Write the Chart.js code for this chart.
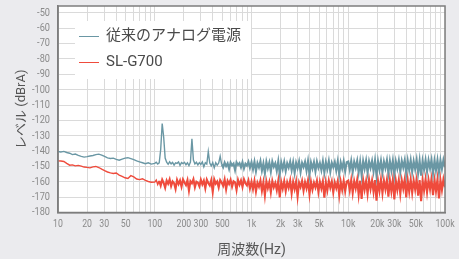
<!DOCTYPE html>
<html>
<head>
<meta charset="utf-8">
<script src="https://cdn.jsdelivr.net/npm/chart.js@4.4.1/dist/chart.umd.min.js"></script>
<style>
html, body { margin: 0; padding: 0; background: #ebebee; }
#wrap { width: 459px; height: 259px; }
</style>
</head>
<body>
<div id="wrap"><canvas id="spectrumChart" width="459" height="259"></canvas></div>
<script>
var seriesNames = ["従来のアナログ電源", "SL-G700"];
var seriesColors = ["#6a97a4", "#ef4b3c"];

var freqHz = [
  10, 10.7, 11.5, 12.3, 13.2, 14.1, 15.1, 16.2, 17.4, 18.6,
  20, 21.4, 23, 24.6, 26.4, 28.3, 30.3, 32.5, 34.8, 37.3,
  40, 42.9, 46, 49.3, 52.8, 56.6, 60.7, 65, 69.7, 74.7,
  80, 85.8, 92,
  100, 103.6, 107.3, 111.2, 115.2, 119.4, 123.7, 128.1, 132.7, 137.5,
  142.5, 147.6, 152.9, 158.4, 164.1, 170, 176.2, 182.5, 189.1, 195.9,
  203, 210.3, 217.8, 225.7, 233.8, 242.2, 251, 260, 269.4, 279.1,
  289.1, 299.5, 310.3, 321.5, 333.1, 345.1, 357.5, 370.4, 383.7, 397.5,
  411.9, 426.7, 442.1, 458, 474.5, 491.6, 509.3, 527.6, 546.6, 566.3,
  586.7, 607.9, 629.8, 652.4, 676, 700.3, 725.5, 751.7, 778.7, 806.8,
  835.9, 866, 897.2, 929.5, 963,
  1000, 1036, 1073, 1112, 1152, 1194, 1237, 1281, 1327, 1375,
  1425, 1476, 1529, 1584, 1641, 1700, 1762, 1825, 1891, 1959,
  2030, 2103, 2178, 2257, 2338, 2422, 2510, 2600, 2694, 2791,
  2891, 2995, 3103, 3215, 3331, 3451, 3575, 3704, 3837, 3975,
  4119, 4267, 4421, 4580, 4745, 4916, 5093, 5276, 5466, 5663,
  5867, 6079, 6298, 6524, 6760, 7003, 7255, 7517, 7787, 8068,
  8359, 8660, 8972, 9295, 9630,
  10000, 10360, 10730, 11120, 11520, 11940, 12370, 12810, 13270, 13750,
  14250, 14760, 15290, 15840, 16410, 17000, 17620, 18250, 18910, 19590,
  20300, 21030, 21780, 22570, 23380, 24220, 25100, 26000, 26940, 27910,
  28910, 29950, 31030, 32150, 33310, 34510, 35750, 37040, 38370, 39750,
  41190, 42670, 44210, 45800, 47450, 49160, 50930, 52760, 54660, 56630,
  58670, 60790, 62980, 65240, 67600, 70030, 72550, 75170, 77870, 80680,
  83590, 86600, 89720, 92950, 96300, 100000
];

var analogLevel = [
  -140.3, -140.6, -140.2, -140.9, -141.4, -142.3, -141.9, -142.8, -143.4, -143.9,
  -143.6, -143.2, -142.9, -142.3, -142.0, -142.6, -143.5, -144.4, -144.8, -144.6,
  -145.4, -145.9, -145.2, -144.6, -144.3, -144.9, -145.5, -146.4, -147.0, -147.6,
  -148.2, -147.6, -148.5,
  -148.0, -147.3, -148.4, -147.7, -139.0, -122.0, -131.0, -144.5, -147.2, -148.6,
  -147.0, -148.3, -147.4, -149.1, -147.6, -148.0, -147.1, -149.3, -147.5, -148.2,
  -147.3, -148.9, -147.6, -149.5, -147.2, -132.0, -145.8, -148.4, -147.3, -149.0,
  -147.5, -148.7, -147.1, -150.2, -147.6, -148.5, -140.4, -147.8, -149.6, -147.4,
  -150.8, -147.6, -149.2, -147.8, -143.4, -148.6, -150.5, -147.5, -149.8, -148.0,
  -151.6, -147.4, -149.3, -148.1, -152.4, -147.3, -149.0, -147.8, -150.6, -147.2,
  -151.3, -148.2, -149.5, -147.0, -150.9,
  -147.2, -151.8, -146.9, -153.1, -147.8, -150.6, -146.6, -152.7, -148.1, -154.6,
  -147.0, -151.2, -147.5, -153.4, -146.8, -150.2, -147.9, -152.9, -146.7, -155.1,
  -147.4, -151.6, -147.1, -153.0, -148.0, -150.8, -146.9, -152.5, -147.3, -154.2,
  -147.6, -151.0, -146.8, -153.6, -147.7, -150.4, -147.0, -152.8, -146.6, -155.4,
  -147.5, -151.4, -147.2, -153.3, -146.9, -150.9, -147.8, -152.4, -146.7, -154.0,
  -147.3, -151.7, -146.5, -153.5, -147.6, -150.5, -147.1, -152.6, -146.8, -155.0,
  -147.4, -151.3, -146.6, -153.2, -147.2,
  -146.8, -152.0, -146.4, -153.6, -147.0, -150.8, -146.3, -153.9, -146.9, -155.6,
  -146.5, -151.5, -146.2, -154.1, -146.7, -150.9, -146.4, -153.2, -146.1, -155.9,
  -146.6, -152.2, -146.3, -153.8, -146.8, -151.1, -146.0, -154.4, -146.5, -152.6,
  -146.2, -155.2, -146.7, -151.4, -146.1, -153.7, -146.4, -150.7, -145.9, -154.8,
  -146.3, -152.3, -146.0, -153.5, -146.6, -151.8, -145.8, -154.2, -146.2, -156.0,
  -146.4, -152.0, -145.9, -153.4, -146.1, -151.2, -145.8, -154.6, -146.3, -152.5,
  -145.9, -153.9, -146.0, -151.6, -145.8, -150.5
];

var slg700Level = [
  -146.4, -146.5, -146.8, -148.0, -149.2, -149.0, -149.6, -149.3, -149.8, -150.4,
  -150.6, -150.9, -150.3, -150.0, -150.7, -151.8, -152.8, -153.6, -154.2, -154.6,
  -154.3, -155.6, -156.4, -157.4, -157.8, -156.0, -156.8, -158.2, -158.6, -158.0,
  -159.1, -159.8, -160.3,
  -160.2, -158.9, -161.8, -159.4, -162.5, -158.6, -160.7, -163.9, -159.2, -161.3,
  -158.4, -162.8, -159.7, -160.9, -164.6, -158.8, -161.5, -159.1, -163.2, -158.5,
  -160.4, -162.1, -158.9, -165.8, -159.6, -161.0, -158.3, -163.5, -159.9, -160.6,
  -162.9, -158.7, -161.7, -159.3, -164.2, -158.6, -160.8, -162.4, -159.0, -166.6,
  -158.4, -161.2, -159.8, -163.7, -158.9, -160.5, -162.6, -158.5, -164.9, -159.4,
  -161.4, -158.7, -163.1, -159.6, -160.3, -165.2, -158.8, -161.9, -159.2, -163.4,
  -158.4, -160.9, -162.3, -159.1, -164.4,
  -160.0, -164.8, -159.4, -166.3, -160.6, -163.2, -159.2, -165.9, -160.3, -168.9,
  -159.7, -164.1, -160.2, -166.8, -159.5, -163.6, -160.8, -165.4, -159.3, -170.2,
  -160.1, -164.5, -159.6, -166.1, -160.4, -163.9, -159.2, -167.4, -160.0, -164.7,
  -159.8, -169.6, -160.5, -163.4, -159.4, -165.8, -160.2, -164.2, -159.1, -168.2,
  -159.9, -165.1, -160.6, -163.7, -159.3, -166.6, -160.1, -164.4, -159.6, -170.4,
  -160.3, -165.6, -159.2, -163.8, -159.8, -166.9, -160.4, -164.0, -159.5, -168.6,
  -160.0, -165.3, -159.4, -166.2, -159.9,
  -159.2, -165.6, -158.9, -167.2, -159.6, -164.3, -158.7, -168.4, -159.3, -171.2,
  -158.8, -165.1, -159.5, -167.8, -158.6, -164.7, -159.1, -166.5, -158.9, -172.3,
  -159.4, -165.9, -158.5, -167.4, -159.2, -164.9, -158.7, -169.6, -159.0, -166.2,
  -158.6, -171.5, -159.3, -165.3, -158.8, -167.9, -159.1, -164.5, -158.4, -170.1,
  -159.0, -166.4, -158.6, -167.1, -159.2, -165.0, -158.5, -169.0, -158.9, -172.6,
  -159.1, -165.7, -158.4, -166.8, -158.8, -164.8, -158.3, -168.7, -159.0, -166.0,
  -158.5, -170.8, -158.7, -165.4, -158.4, -163.5
];

var xTickValues = [10, 20, 30, 50, 100, 200, 300, 500, 1000, 2000, 3000, 5000, 10000, 20000, 30000, 50000, 100000];
var xTickLabels = ["10", "20", "30", "50", "100", "200", "300", "500", "1k", "2k", "3k", "5k", "10k", "20k", "30k", "50k", "100k"];
var yTickValues = [-180, -170, -160, -150, -140, -130, -120, -110, -100, -90, -80, -70, -60, -50];

var tickFont = "Roboto, sans-serif";
var textFont = "Roboto, 'Noto Sans CJK JP', sans-serif";

function toPoints(levels) {
  var pts = [];
  for (var i = 0; i < freqHz.length; i++) {
    pts.push({ x: freqHz[i], y: levels[i] });
  }
  return pts;
}

function logGridValues() {
  var vals = [];
  for (var p = 10; p < 100000; p *= 10) {
    for (var m = 1; m < 10; m++) {
      vals.push(Math.round(m * p));
    }
  }
  vals.push(100000);
  return vals;
}

// tick labels in the original use a condensed face; squeeze Roboto horizontally
function condenseLabels(axis, factor) {
  if (axis.$condensed) return;
  axis.$condensed = true;
  var original = axis.drawLabels;
  axis.drawLabels = function (chartArea) {
    var render = Chart.helpers && Chart.helpers.renderText;
    if (!render) {
      return original.call(this, chartArea);
    }
    var c = this.ctx;
    c.save();
    c.scale(factor, 1);
    this.getLabelItems(chartArea).forEach(function (item) {
      var o = Object.assign({}, item.options);
      o.translation = [item.options.translation[0] / factor, item.options.translation[1]];
      render(c, item.label, 0, item.textOffset, item.font, o);
    });
    c.restore();
  };
}

var plotBackground = {
  id: "plotBackground",
  beforeDraw: function (chart) {
    var a = chart.chartArea;
    chart.ctx.save();
    chart.ctx.fillStyle = "#ffffff";
    chart.ctx.fillRect(a.left, a.top, a.right - a.left, a.bottom - a.top);
    chart.ctx.restore();
  }
};

var frameAndLegend = {
  id: "frameAndLegend",
  afterDatasetsDraw: function (chart) {
    var ctx = chart.ctx;
    var a = chart.chartArea;
    ctx.save();
    ctx.fillStyle = "#ffffff";
    ctx.fillRect(75, 21, 176, 58);
    ctx.font = "15px " + textFont;
    ctx.textBaseline = "middle";
    chart.data.datasets.forEach(function (ds, i) {
      var y = 36 + i * 26;
      ctx.strokeStyle = ds.borderColor;
      ctx.lineWidth = 1;
      ctx.beginPath();
      ctx.moveTo(79, y + 0.5);
      ctx.lineTo(99, y + 0.5);
      ctx.stroke();
      ctx.fillStyle = "#4a4a4a";
      ctx.fillText(ds.label, 106, y);
    });
    ctx.strokeStyle = "#7d7d7d";
    ctx.lineWidth = 1.5;
    ctx.strokeRect(a.left, a.top, a.right - a.left, a.bottom - a.top);
    ctx.restore();
  }
};

function segmentWidth(ctx) {
  var denseFrom = ctx.datasetIndex === 0 ? 480 : 110;
  return ctx.p0.parsed.x >= denseFrom ? 2.1 : 1.4;
}

function initSpectrumChart() {
  var ctx = document.getElementById("spectrumChart").getContext("2d");
  var gridHz = logGridValues();
  var chart = new Chart(ctx, {
    type: "line",
    data: {
      datasets: [
        { label: seriesNames[0], data: toPoints(analogLevel), borderColor: seriesColors[0], backgroundColor: seriesColors[0] },
        { label: seriesNames[1], data: toPoints(slg700Level), borderColor: seriesColors[1], backgroundColor: seriesColors[1] }
      ]
    },
    options: {
      responsive: false,
      animation: false,
      parsing: false,
      layout: { padding: { top: 6, right: 14, left: 0, bottom: 0 } },
      elements: {
        point: { radius: 0 },
        line: { borderWidth: 1.4, tension: 0 }
      },
      datasets: {
        line: { segment: { borderWidth: segmentWidth } }
      },
      plugins: {
        legend: { display: false },
        tooltip: { enabled: false }
      },
      scales: {
        x: {
          type: "logarithmic",
          min: 10,
          max: 100000,
          afterBuildTicks: function (axis) {
            axis.ticks = gridHz.map(function (v) { return { value: v }; });
          },
          afterFit: function (axis) {
            axis.height = 46.5;
            axis.paddingLeft = 0;
            axis.paddingRight = 0;
            condenseLabels(axis, 0.76);
          },
          grid: { color: "#dadada", drawTicks: false },
          border: { color: "#7d7d7d", width: 1.5 },
          ticks: {
            autoSkip: false,
            maxRotation: 0,
            padding: 5,
            color: "#8a8a8a",
            font: { family: tickFont, size: 11.5 },
            callback: function (value) {
              var i = xTickValues.indexOf(value);
              return i < 0 ? "" : xTickLabels[i];
            }
          },
          title: {
            display: true,
            text: "周波数(Hz)",
            color: "#555555",
            font: { family: textFont, size: 14 },
            padding: { top: 0, bottom: 0 }
          }
        },
        y: {
          min: -180,
          max: -45.5,
          afterBuildTicks: function (axis) {
            axis.ticks = yTickValues.map(function (v) { return { value: v }; });
          },
          afterFit: function (axis) {
            axis.width = 58;
            axis.paddingTop = 0;
            axis.paddingBottom = 0;
            condenseLabels(axis, 0.8);
          },
          grid: { color: "#dadada", drawTicks: false },
          border: { color: "#7d7d7d", width: 1.5 },
          ticks: {
            autoSkip: false,
            padding: 8,
            color: "#8a8a8a",
            font: { family: tickFont, size: 11.5 }
          },
          title: {
            display: true,
            text: "レベル (dBrA)",
            color: "#555555",
            font: { family: textFont, size: 13 },
            padding: { top: 14, bottom: 0 }
          }
        }
      }
    },
    plugins: [plotBackground, frameAndLegend]
  });
}

initSpectrumChart();
</script>
</body>
</html>
